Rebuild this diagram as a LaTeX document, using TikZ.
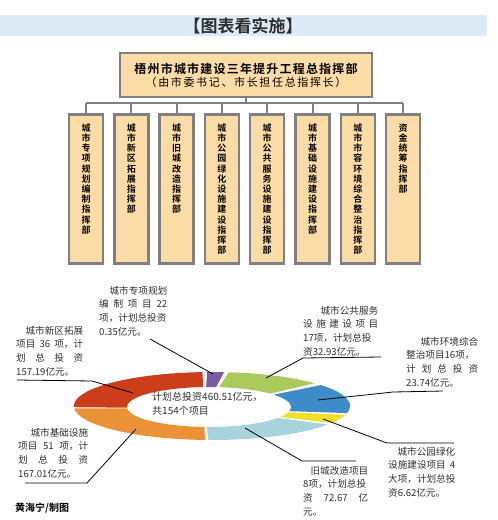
\documentclass[tikz,border=0pt]{standalone}
\usepackage{fontspec}
\setmainfont{Noto Sans CJK SC}[BoldFont={Noto Sans CJK SC Bold}]
\definecolor{boxfill}{HTML}{FCDCA6}
\definecolor{boxline}{HTML}{808080}
\definecolor{band}{HTML}{DDEBF7}
\definecolor{txt}{HTML}{2E2E2E}
\definecolor{cred}{HTML}{CC3E1A}
\definecolor{cpurple}{HTML}{7A5CA0}
\definecolor{cgreen}{HTML}{AACB5C}
\definecolor{cblue}{HTML}{3D8CC8}
\definecolor{cyellow}{HTML}{F2DF2C}
\definecolor{ccyan}{HTML}{A6D3DC}
\definecolor{corange}{HTML}{EB9237}
\newcommand\ringseg[3]{%
  \fill[#1] plot[domain=#2:#3,samples=40] ({212+138*cos(\x)},{406+34*sin(\x)})
    -- plot[domain=#3:#2,samples=40] ({209+82*cos(\x)},{407+20*sin(\x)}) -- cycle;}
\tikzset{
  orgbox/.style={draw=boxline, fill=boxfill, line width=2.5pt, inner sep=0pt},
  orgline/.style={draw=boxline, line width=2pt},
  vtext/.style={anchor=north, inner sep=0pt, align=center, text=black,
    font=\bfseries\fontsize{9}{10.2}\selectfont},
  lbl/.style={anchor=north west, inner sep=0pt, align=left, text=txt,
    font=\fontsize{9.6}{13.6}\selectfont},
  leader/.style={draw=black, line width=0.8pt}
}
\begin{document}
\begin{tikzpicture}[x=1pt,y=-1pt]
\useasboundingbox (0,0) rectangle (498,520);
% title band
\fill[band] (0,15) rectangle (487,36);
\node[inner sep=0pt, text=txt, font=\bfseries\fontsize{17}{20}\selectfont] (title) at (243,25.5) {【图表看实施】};
% top box
\node[orgbox, minimum width=252pt, minimum height=44pt, align=center] (top) at (246,75)
  {{\bfseries\fontsize{12}{14}\selectfont\addfontfeature{LetterSpace=10}梧州市城市建设三年提升工程总指挥部}\\[1pt]
   {\fontsize{11}{13}\selectfont\addfontfeature{LetterSpace=15}（由市委书记、市长担任总指挥长）}};
% sub boxes
\foreach \i/\cx in {1/86,2/131.3,3/176.6,4/221.9,5/267.2,6/312.5,7/357.8,8/403.1}{
  \node[orgbox, anchor=north, minimum width=34pt, minimum height=149pt] (b\i) at (\cx,113) {};
}
\coordinate (bus) at (246,103);
\draw[orgline] (top.south) -- (bus);
\draw[orgline] (b1.north |- bus) -- (b8.north |- bus);
\foreach \i in {1,...,8}{\draw[orgline] (b\i.north) -- (b\i.north |- bus);}
\node[vtext] (t1) at (86,123.5) {城\\市\\专\\项\\规\\划\\编\\制\\指\\挥\\部};
\node[vtext] (t2) at (131.3,123.5) {城\\市\\新\\区\\拓\\展\\指\\挥\\部};
\node[vtext] (t3) at (176.6,123.5) {城\\市\\旧\\城\\改\\造\\指\\挥\\部};
\node[vtext] (t4) at (221.9,123.5) {城\\市\\公\\园\\绿\\化\\设\\施\\建\\设\\指\\挥\\部};
\node[vtext] (t5) at (267.2,123.5) {城\\市\\公\\共\\服\\务\\设\\施\\建\\设\\指\\挥\\部};
\node[vtext] (t6) at (312.5,123.5) {城\\市\\基\\础\\设\\施\\建\\设\\指\\挥\\部};
\node[vtext] (t7) at (357.8,123.5) {城\\市\\市\\容\\环\\境\\综\\合\\整\\治\\指\\挥\\部};
\node[vtext] (t8) at (403.1,123.5) {资\\金\\统\\筹\\指\\挥\\部};
% ring
\ringseg{cred}{178}{266}
\ringseg{cpurple}{268}{275}
\ringseg{cgreen}{277}{318}
\ringseg{cblue}{322}{372}
\ringseg{cyellow}{375}{390}
\ringseg{ccyan}{393}{451.5}
\ringseg{corange}{453}{536}
\node[lbl, font=\fontsize{10}{14}\selectfont] (center) at (152,392)
  {计划总投资460.51亿元，\\共154个项目};
% labels
\node[lbl] (lp) at (99,286)
  {\makebox[68pt][r]{城市专项规划}\\\makebox[68pt][s]{编 制 项 目 22}\\\makebox[68pt][s]{项，计划总投资}\\0.35亿元。};
\node[lbl] (lr) at (16,326)
  {\makebox[67pt][r]{城市新区拓展}\\\makebox[67pt][s]{项目 36 项，计}\\\makebox[67pt][s]{划 总 投 资}\\157.19亿元。};
\node[lbl] (lo) at (18,428)
  {\makebox[70pt][r]{城市基础设施}\\\makebox[70pt][s]{项目 51 项，计}\\\makebox[70pt][s]{划 总 投 资}\\167.01亿元。};
\node[lbl] (lg) at (303,306)
  {\makebox[75pt][r]{城市公共服务}\\\makebox[75pt][s]{设 施 建 设 项 目}\\\makebox[75pt][s]{17项，计划总投}\\资32.93亿元。};
\node[lbl] (lb) at (406,337)
  {\makebox[72pt][r]{城市环境综合}\\\makebox[72pt][s]{整治项目16项，}\\\makebox[72pt][s]{计 划 总 投 资}\\23.74亿元。};
\node[lbl] (ly) at (388,447)
  {\makebox[67pt][r]{城市公园绿化}\\\makebox[67pt][s]{设施建设项目 4}\\\makebox[67pt][s]{大项，计划总投}\\资6.62亿元。};
\node[lbl] (lc) at (303,466)
  {\makebox[65pt][r]{旧城改造项目}\\\makebox[65pt][s]{8项，计划总投}\\\makebox[65pt][s]{资 72.67 亿}\\元。};
\node[anchor=west, inner sep=0pt, text=black, font=\bfseries\fontsize{10}{12}\selectfont] (credit) at (15,508) {黄海宁/制图};
% leader coordinates
\coordinate (pS) at (150,339); \coordinate (pE) at (213,374);
\coordinate (rA) at (17,380); \coordinate (rB) at (92,381); \coordinate (rE) at (133,393);
\coordinate (oA) at (25,483); \coordinate (oB) at (87,483); \coordinate (oE) at (136,429);
\coordinate (gA) at (381,357); \coordinate (gB) at (303,358); \coordinate (gE) at (266,378);
\coordinate (bA) at (443,391); \coordinate (bB) at (393,392); \coordinate (bE) at (318,400);
\coordinate (yA) at (454,443); \coordinate (yB) at (387,443); \coordinate (yE) at (323,419);
\coordinate (cA) at (356,461); \coordinate (cB) at (302,461); \coordinate (cE) at (245,428);
\draw[leader] (pS) -- (pE);
\draw[leader] (rA) -- (rB) -- (rE);
\draw[leader] (oA) -- (oB) -- (oE);
\draw[leader] (gA) -- (gB) -- (gE);
\draw[leader] (bA) -- (bB) -- (bE);
\draw[leader] (yA) -- (yB) -- (yE);
\draw[leader] (cA) -- (cB) -- (cE);
\end{tikzpicture}
\end{document}
